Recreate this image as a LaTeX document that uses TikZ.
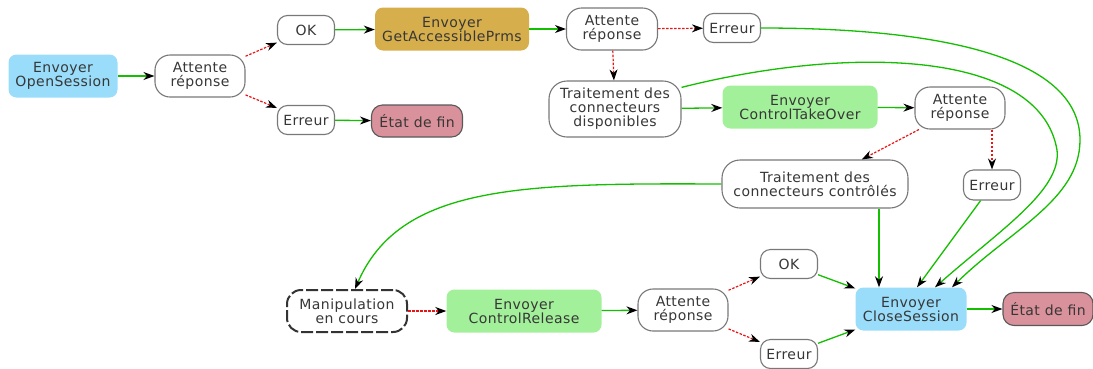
\documentclass[tikz,border=0pt]{standalone}
\usepackage{fontspec}
\setmainfont{DejaVu Sans}[LetterSpace=3]
\usetikzlibrary{arrows.meta}
\definecolor{cblue}{RGB}{153,221,250}
\definecolor{cgold}{RGB}{215,174,76}
\definecolor{cgreen}{RGB}{163,240,154}
\definecolor{cpink}{RGB}{217,145,155}
\definecolor{egreen}{RGB}{20,190,0}
\definecolor{ered}{RGB}{235,20,20}
\definecolor{ctxt}{RGB}{55,55,55}
\definecolor{cbord}{RGB}{120,120,120}
\tikzset{
  base/.style={rectangle, align=center, inner sep=0pt, text=ctxt, font=\fontsize{14}{14}\selectfont},
  wait/.style={base, draw=cbord, line width=1.1pt, fill=white, rounded corners=15pt, minimum width=90pt, minimum height=42pt},
  smallbox/.style={base, draw=cbord, line width=1.1pt, fill=white, rounded corners=10pt, minimum width=57pt, minimum height=29pt},
  treat/.style={base, draw=cbord, line width=1.1pt, fill=white, rounded corners=18pt},
  actblue/.style={base, fill=cblue, rounded corners=8pt, minimum height=43pt},
  actgold/.style={base, fill=cgold, rounded corners=8pt, minimum height=43pt},
  actgreen/.style={base, fill=cgreen, rounded corners=8pt, minimum height=43pt, minimum width=155pt},
  endbox/.style={base, fill=cpink, draw=black!65, line width=1.1pt, rounded corners=11pt, minimum width=90pt, minimum height=32pt},
  manip/.style={base, draw=black!80, line width=2pt, dash pattern=on 12pt off 3pt, rounded corners=14pt, minimum width=120pt, minimum height=42pt},
  tip/.style={-{Stealth[black,length=11pt,width=8pt,inset=3.5pt]}},
  okarrow/.style={draw=egreen, line width=1.3pt, tip},
  koarrow/.style={draw=ered, line width=1.2pt, dash pattern=on 2.5pt off 1.5pt, tip},
}
\begin{document}
\begin{tikzpicture}[x=1pt, y=-1pt]
\useasboundingbox (0,0) rectangle (1093,368);
% nodes
\node[actblue, minimum width=109pt] (open) at (63,76) {Envoyer\\OpenSession};
\node[wait] (att1) at (200,76) {Attente\\réponse};
\node[smallbox] (ok1) at (306,30) {OK};
\node[smallbox] (err1) at (306,120) {Erreur};
\node[endbox, minimum width=91pt] (fin1) at (417,121) {État de fin};
\node[actgold, minimum width=154pt] (getacc) at (452,29) {Envoyer\\GetAccessiblePrms};
\node[wait, minimum width=91pt] (att2) at (612,29) {Attente\\réponse};
\node[smallbox] (err2) at (732,28) {Erreur};
\node[treat, minimum width=132pt, minimum height=56pt] (tdisp) at (615,109) {Traitement des\\connecteurs\\disponibles};
\node[actgreen] (takeover) at (800,107) {Envoyer\\ControlTakeOver};
\node[wait] (att3) at (960,108) {Attente\\réponse};
\node[treat, minimum width=186pt, minimum height=48pt] (tctrl) at (815,184) {Traitement des\\connecteurs contrôlés};
\node[smallbox, minimum height=30pt] (err3) at (992,185) {Erreur};
\node[manip] (manip) at (347,311) {Manipulation\\en cours};
\node[actgreen] (release) at (524,311) {Envoyer\\ControlRelease};
\node[wait] (att4) at (683,310) {Attente\\réponse};
\node[smallbox] (ok4) at (789,264) {OK};
\node[smallbox] (err4) at (789,354) {Erreur};
\node[actblue, minimum width=111pt] (close) at (911,309) {Envoyer\\CloseSession};
\node[endbox, minimum height=33pt] (fin2) at (1048,309) {État de fin};
% edges
\draw[okarrow] (open) -- (att1);
\draw[koarrow] (att1) -- (ok1);
\draw[koarrow] (att1) -- (err1);
\draw[okarrow] (ok1) -- (getacc);
\draw[okarrow] (err1) -- (fin1);
\draw[okarrow] (getacc) -- (att2);
\draw[koarrow] (att2) -- (err2);
\draw[koarrow] (att2) -- (tdisp);
\draw[okarrow] (tdisp) -- (takeover);
\draw[okarrow] (takeover) -- (att3);
\draw[koarrow] (att3) -- (tctrl);
\draw[koarrow] (att3.south -| err3) -- (err3);
\draw[okarrow] (tctrl.west) .. controls (520,183) and (400,185) .. ([xshift=8pt]manip.north);
\draw[okarrow] ([xshift=64pt]tctrl.south) -- ([xshift=64pt]tctrl.south |- close.north);
\draw[okarrow] (err3) -- ([xshift=6pt]close.north);
\draw[okarrow] (tdisp.18) .. controls (850,45) and (1040,50) .. (1057,150) .. controls (1062,190) and (1000,230) .. ([xshift=24pt]close.north);
\draw[okarrow] (err2.east) .. controls (950,28) and (1080,60) .. (1080,140) .. controls (1080,200) and (1010,230) .. ([xshift=41pt]close.north);
\draw[koarrow] (manip) -- (release);
\draw[okarrow] (release) -- (att4);
\draw[koarrow] (att4) -- (ok4);
\draw[koarrow] (att4) -- (err4);
\draw[okarrow] (ok4) -- (close);
\draw[okarrow] (err4) -- (close);
\draw[okarrow] (close) -- (fin2);
\end{tikzpicture}
\end{document}
